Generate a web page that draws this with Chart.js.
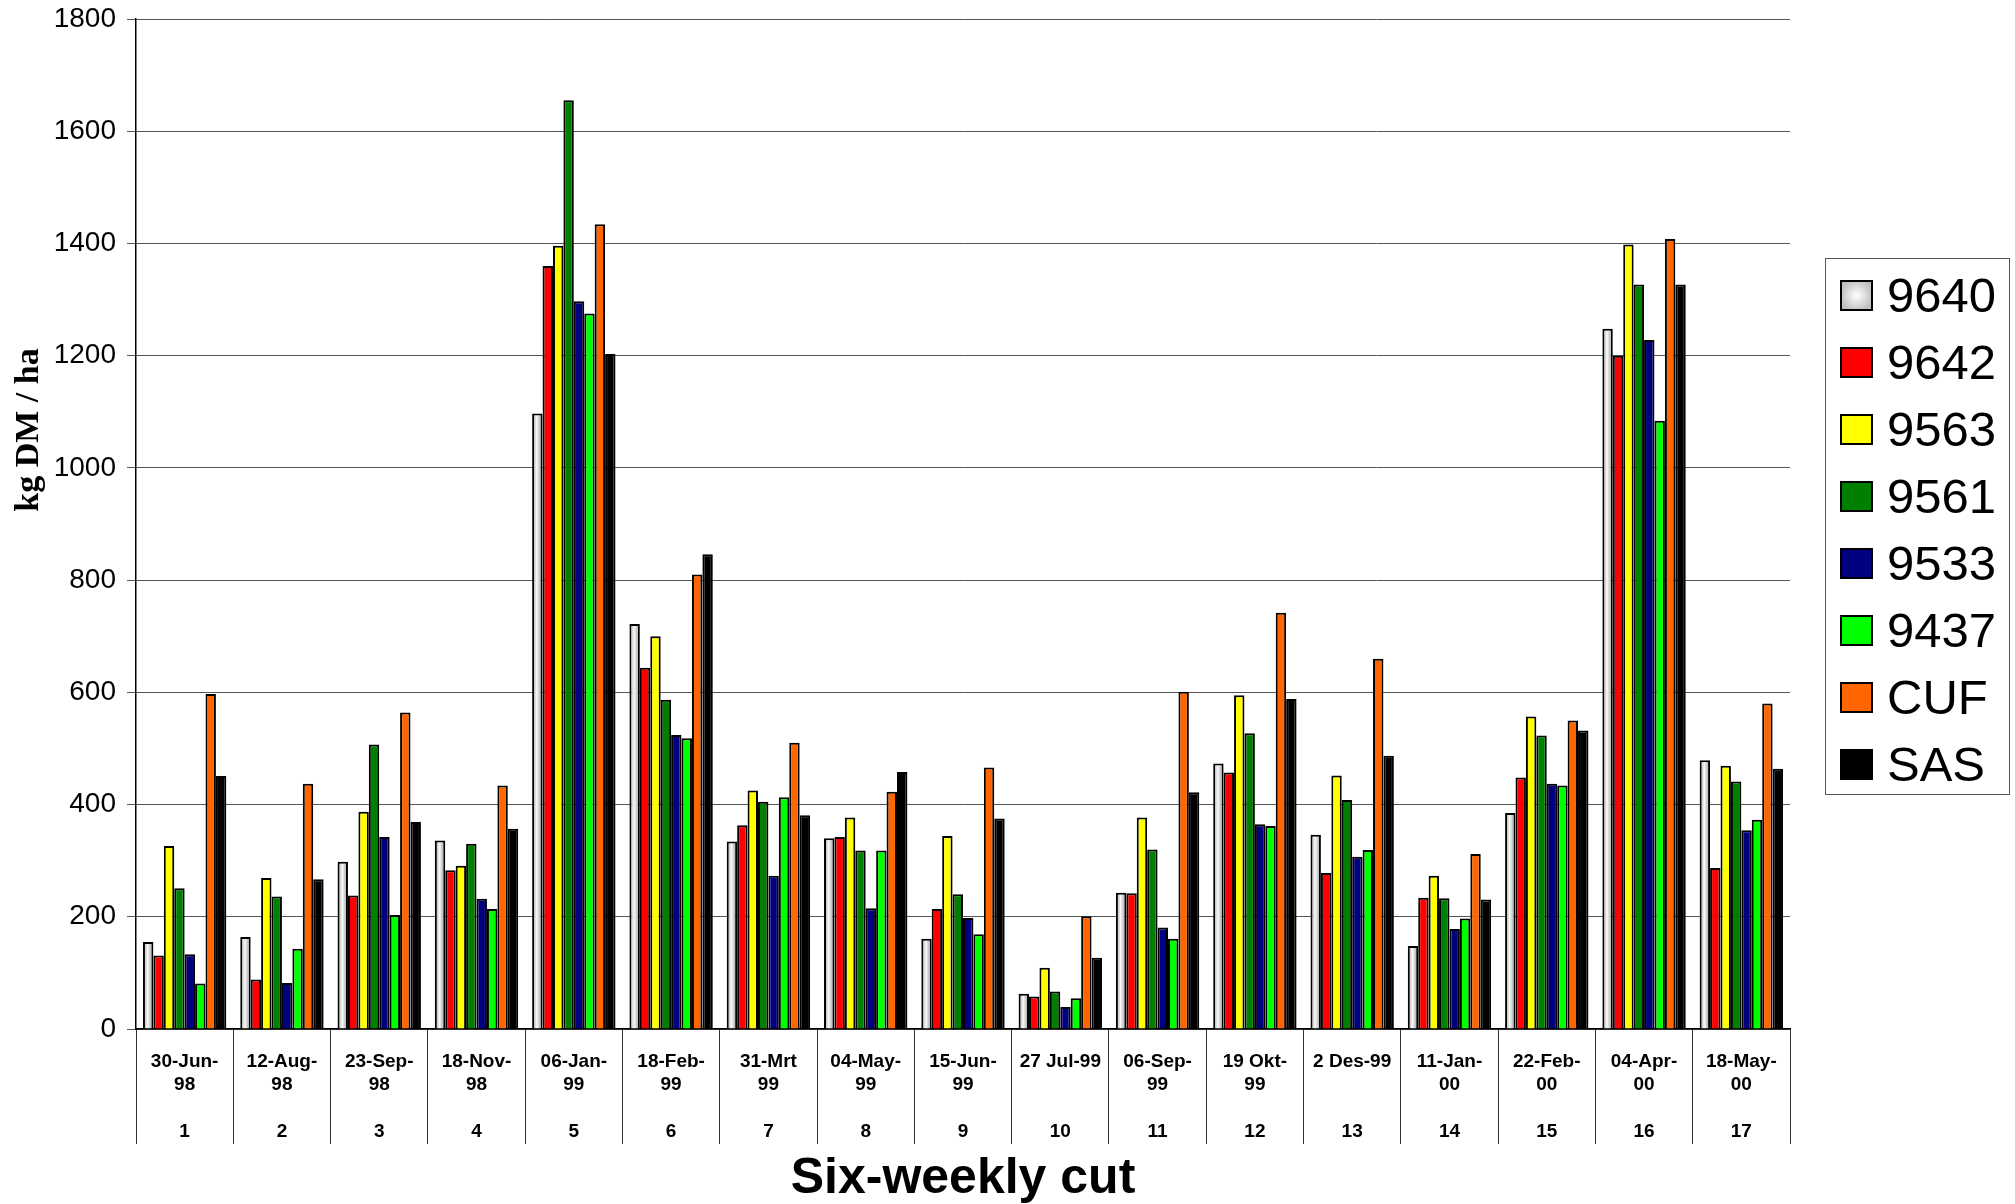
<!DOCTYPE html>
<html>
<head>
<meta charset="utf-8">
<title>Six-weekly cut yields</title>
<script src="https://cdn.jsdelivr.net/npm/chart.js@4.4.0/dist/chart.umd.min.js"></script>
<style>
  html, body { margin: 0; padding: 0; background: #fff; }
  #wrap { position: relative; width: 2015px; height: 1204px; }
  #legend {
    position: absolute; left: 1825px; top: 258px; width: 185px; height: 537px;
    box-sizing: border-box; border: 1.5px solid #555; background: #fff; padding-top: 3px;
  }
  .item { display: flex; align-items: center; height: 67px; }
  .sw { width: 33px; height: 31px; box-sizing: border-box; border: 2px solid #000; margin-left: 14px; margin-right: 14px; }
  .lb { font: 49px 'Liberation Sans', Arial, sans-serif; color: #000; line-height: 1; }
</style>
</head>
<body>
<div id="wrap">
  <canvas id="chart" width="2015" height="1204"></canvas>
  <div id="legend"></div>
</div>
<script>
// Cut dates (two lines) and cut numbers along the x axis
const dateLine1 = ['30-Jun-', '12-Aug-', '23-Sep-', '18-Nov-', '06-Jan-', '18-Feb-', '31-Mrt', '04-May-', '15-Jun-',
                   '27 Jul-99', '06-Sep-', '19 Okt-', '2 Des-99', '11-Jan-', '22-Feb-', '04-Apr-', '18-May-'];
const dateLine2 = ['98', '98', '98', '98', '99', '99', '99', '99', '99',
                   '', '99', '99', '', '00', '00', '00', '00'];
const cutNumbers = ['1', '2', '3', '4', '5', '6', '7', '8', '9', '10', '11', '12', '13', '14', '15', '16', '17'];

// Cultivar names
const seriesNames = ['9640', '9642', '9563', '9561', '9533', '9437', 'CUF', 'SAS'];

// Dry matter yield per cut, kg DM / ha
const y9640 = [155, 164, 298, 336, 1097, 722, 334, 340, 161, 63, 243, 473, 346, 148, 385, 1248, 479];
const y9642 = [131, 88, 238, 283, 1360, 644, 363, 342, 214, 58, 242, 457, 278, 234, 448, 1200, 287];
const y9563 = [326, 269, 387, 291, 1396, 700, 425, 377, 344, 109, 377, 595, 452, 273, 557, 1398, 469];
const y9561 = [251, 236, 507, 330, 1655, 587, 405, 318, 240, 67, 320, 527, 408, 233, 523, 1327, 441];
const y9533 = [133, 82, 342, 232, 1297, 524, 273, 215, 198, 39, 181, 365, 307, 178, 437, 1228, 354];
const y9437 = [81, 143, 203, 214, 1275, 518, 413, 318, 169, 55, 161, 362, 319, 197, 434, 1084, 373];
const yCUF  = [597, 437, 564, 434, 1434, 810, 510, 423, 466, 201, 601, 742, 660, 312, 550, 1408, 580];
const ySAS  = [451, 267, 369, 357, 1203, 846, 381, 458, 375, 127, 422, 588, 487, 231, 532, 1327, 464];

const yTicks = [0, 200, 400, 600, 800, 1000, 1200, 1400, 1600, 1800];
const yAxisTitle = 'kg DM / ha';
const xAxisTitle = 'Six-weekly cut';

const seriesValues = [y9640, y9642, y9563, y9561, y9533, y9437, yCUF, ySAS];
const seriesColors = ['#c0c0c0', '#ff0000', '#ffff00', '#008000', '#000080', '#00ff00', '#ff6600', '#000000'];

const CATEGORY_PCT = 0.857;

const labels = dateLine1.map((d, i) => [d, dateLine2[i], '', cutNumbers[i]]);

const datasets = seriesNames.map((name, i) => ({
  label: name,
  data: seriesValues[i],
  // a function keeps each silver bar's options separate so it can be shaded individually
  backgroundColor: i === 0 ? () => '#c0c0c0' : seriesColors[i],
  borderColor: '#000',
  borderWidth: 2,
  barPercentage: 1.0,
  categoryPercentage: CATEGORY_PCT
}));

// Cylindrical shading across each silver bar, from the bar's own geometry
const silverShade = {
  id: 'silverShade',
  beforeDatasetDraw(chart, args) {
    if (args.index !== 0) return;
    const ctx = chart.ctx;
    args.meta.data.forEach(el => {
      const { x, width } = el.getProps(['x', 'width'], true);
      const left = x - width / 2;
      const g = ctx.createLinearGradient(left, 0, left + width, 0);
      g.addColorStop(0, '#a4a4a4');
      g.addColorStop(0.2, '#c4c4c4');
      g.addColorStop(0.45, '#fafafa');
      g.addColorStop(0.7, '#c8c8c8');
      g.addColorStop(1, '#a4a4a4');
      if (el.options && !Object.isFrozen(el.options)) el.options.backgroundColor = g;
    });
  }
};

// Rotated y-axis title
const yTitlePlugin = {
  id: 'yTitle',
  afterDraw(chart) {
    const c = chart.ctx;
    c.save();
    c.translate(29, 430);
    c.rotate(-Math.PI / 2);
    c.font = 'bold 34px "Liberation Serif", "Times New Roman", serif';
    c.textAlign = 'center';
    c.textBaseline = 'middle';
    c.fillStyle = '#000';
    c.fillText(yAxisTitle, 0, 0);
    c.restore();
  }
};

Chart.defaults.font.family = "'Liberation Sans', Arial, sans-serif";
Chart.defaults.color = '#000';

const chart = new Chart(document.getElementById('chart'), {
  type: 'bar',
  data: { labels, datasets },
  plugins: [silverShade, yTitlePlugin],
  options: {
    responsive: false,
    animation: false,
    devicePixelRatio: 1,
    events: [],
    layout: { padding: { top: 19, right: 225, bottom: 0, left: 0 } },
    plugins: { legend: { display: false }, tooltip: { enabled: false }, title: { display: false } },
    scales: {
      x: {
        afterFit(scale) { scale.height = 175; },
        grid: {
          offset: true, drawOnChartArea: false, drawTicks: true,
          tickLength: 115, color: '#333', lineWidth: 1
        },
        border: { display: true, color: '#000', width: 1.5 },
        ticks: {
          autoSkip: false, maxRotation: 0, minRotation: 0, padding: -94,
          font: { size: 19, weight: 'bold', lineHeight: '23.5px' }, color: '#000'
        },
        title: {
          display: true, text: xAxisTitle, color: '#000',
          font: { size: 50, weight: 'bold', lineHeight: 1.2 },
          padding: { top: 0, bottom: -5 }
        }
      },
      y: {
        min: 0, max: 1800,
        afterFit(scale) { scale.width = 136; scale.paddingTop = 0; },
        afterBuildTicks(scale) { scale.ticks = yTicks.map(v => ({ value: v })); },
        grid: { color: '#555', lineWidth: 1, drawTicks: true, tickLength: 9 },
        border: { display: true, color: '#000', width: 1.5 },
        ticks: { padding: 11, font: { size: 28, lineHeight: '20px' }, color: '#000', callback: v => String(v) }
      }
    }
  }
});

// Boxed legend on the right built from the datasets
const legendEl = document.getElementById('legend');
chart.data.datasets.forEach((ds, i) => {
  const row = document.createElement('div');
  row.className = 'item';
  const sw = document.createElement('div');
  sw.className = 'sw';
  sw.style.background = i === 0 ? 'radial-gradient(circle, #ffffff 0%, #c0c0c0 80%)' : seriesColors[i];
  const lb = document.createElement('span');
  lb.className = 'lb';
  lb.textContent = ds.label;
  row.appendChild(sw);
  row.appendChild(lb);
  legendEl.appendChild(row);
});
</script>
</body>
</html>
